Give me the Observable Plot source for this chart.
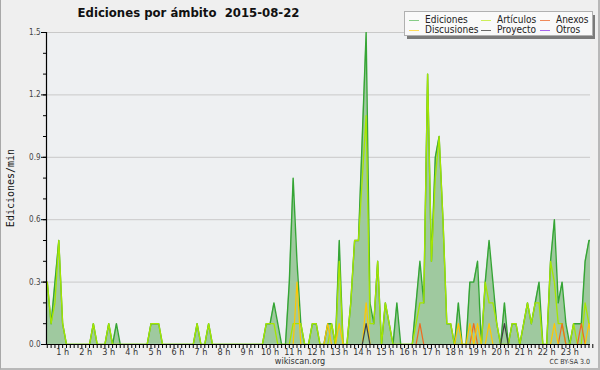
<!DOCTYPE html>
<html>
<head>
<meta charset="utf-8">
<script src="https://cdn.jsdelivr.net/npm/d3@7"></script>
<script src="https://cdn.jsdelivr.net/npm/@observablehq/plot@0.6"></script>
<style>
  html, body { margin: 0; padding: 0; background: #efefef; }
  #wrap { position: relative; width: 600px; height: 370px; background: #efefef; overflow: hidden;
          font-family: "DejaVu Sans Condensed", "DejaVu Sans", sans-serif; font-stretch: condensed; }
  #chart { position: absolute; left: 0; top: 0; }
  #title { position: absolute; left: 0; width: 377px; top: 5px; text-align: center; font-weight: bold;
           font-size: 13px; line-height: 16px; color: #111; white-space: pre; }
  #legend-shadow { position: absolute; left: 407px; top: 15px; width: 188px; height: 24px; background: #7a7a7a; }
  #legend { position: absolute; left: 404px; top: 11px; width: 187px; height: 23px; background: #f9f9f9;
            border: 1px solid #b0b0b0; box-sizing: content-box; }
  .li { position: absolute; font-size: 10px; line-height: 10px; color: #222; white-space: nowrap; }
  .sw { position: absolute; height: 1px; width: 10px; }
  #ytitle { position: absolute; left: 10px; top: 188px; transform: translate(-50%, -50%) rotate(-90deg);
            font-family: "DejaVu Sans Mono", monospace; font-stretch: normal; font-size: 10px; color: #111; white-space: nowrap; }
  #site { position: absolute; left: 0; width: 600px; top: 357px; text-align: center; font-size: 9px; line-height: 9px; color: #333; }
  #lic { position: absolute; right: 10px; top: 359px; font-size: 7px; line-height: 7px; color: #333; }
  #border { position: absolute; left: 0; top: 0; width: 600px; height: 370px; box-sizing: border-box;
            border-left: 1px solid #a8a8a8; border-right: 2px solid #b8b8b8; border-bottom: 2px solid #b8b8b8; pointer-events: none; }
</style>
</head>
<body>
<div id="wrap">
  <div id="chart"></div>
  <div id="title"></div>
  <div id="legend-shadow"></div>
  <div id="legend"></div>
  <div id="ytitle"></div>
  <div id="site"></div>
  <div id="lic"></div>
  <div id="border"></div>
</div>
<script>
// ---- texts ----
const titleText = "Ediciones por ámbito  2015-08-22";
const yTitle = "Ediciones/min";
const siteText = "wikiscan.org";
const licenseText = "CC BY-SA 3.0";

// ---- time axis: one sample every 10 minutes, first at 00:20 ----
const startMinute = 20;
const stepMinutes = 10;
const hourLabels = ["1 h","2 h","3 h","4 h","5 h","6 h","7 h","8 h","9 h","10 h","11 h","12 h",
                    "13 h","14 h","15 h","16 h","17 h","18 h","19 h","20 h","21 h","22 h","23 h"];
const yMajorTicks = [0.0, 0.3, 0.6, 0.9, 1.2, 1.5];
const yMinorTicks = [0.0,0.1,0.2,0.3,0.4,0.5,0.6,0.7,0.8,0.9,1.0,1.1,1.2,1.3,1.4,1.5];

// ---- series (edits/min, one value per 10-minute sample) ----
const ediciones = [
  0.3,0.1,0.3,0.5,0.1,0,   0,0,0,0,0,0,   0.1,0,0,0,0.1,0,   0.1,0,0,0,0,0,
  0,0,0,0.1,0.1,0.1,       0,0,0,0,0,0,   0,0,0,0.1,0,0,     0.1,0,0,0,0,0,
  0,0,0,0,0,0,             0,0,0,0.1,0.1,0.2, 0.1,0,0,0.3,0.8,0.4, 0.1,0,0,0.1,0.1,0,
  0,0.1,0.1,0,0.5,0,       0,0.2,0.5,0.5,1.0,1.5, 0.2,0.1,0.4,0,0.2,0.1, 0,0.2,0,0,0,0,
  0.2,0.4,0.2,1.3,0.4,0.9, 1.0,0.6,0.1,0.1,0,0.2, 0,0,0.3,0.3,0.4,0, 0.3,0.5,0.3,0.1,0,0.2,
  0,0.1,0.1,0,0.1,0.2,     0.1,0.2,0.3,0,0,0.4, 0.6,0.2,0.3,0.1,0,0.1, 0.1,0.1,0.4,0.5,0.5
];
const articulos = [
  0.3,0.1,0.2,0.5,0.1,0,   0,0,0,0,0,0,   0.1,0,0,0,0.1,0,   0,0,0,0,0,0,
  0,0,0,0.1,0.1,0.1,       0,0,0,0,0,0,   0,0,0,0.1,0,0,     0.1,0,0,0,0,0,
  0,0,0,0,0,0,             0,0,0,0.1,0.1,0.1, 0,0,0,0,0.1,0.1, 0.1,0,0,0.1,0.1,0,
  0,0,0.1,0,0.4,0,         0,0.2,0.5,0.5,0.8,1.1, 0.1,0.1,0.4,0,0.2,0.1, 0,0,0,0,0,0,
  0.1,0.2,0.2,1.3,0.4,0.8, 1.0,0.6,0.1,0.1,0,0, 0,0,0,0,0,0, 0.3,0.2,0.2,0.1,0,0,
  0,0.1,0.1,0,0.1,0.2,     0.1,0.2,0.2,0,0,0.4, 0.3,0.1,0.1,0,0,0.1, 0,0,0.2,0.1,0.1
];
const discusiones = [
  0,0,0,0,0,0, 0,0,0,0,0,0, 0,0,0,0,0,0, 0,0,0,0,0,0,
  0,0,0,0,0,0, 0,0,0,0,0,0, 0,0,0,0,0,0, 0,0,0,0,0,0,
  0,0,0,0,0,0, 0,0,0,0,0,0, 0,0,0,0,0,0.3, 0,0,0,0,0,0,
  0,0.1,0,0,0.1,0, 0,0,0,0,0,0.2, 0,0,0,0,0,0, 0,0,0,0,0,0,
  0,0,0,0,0,0, 0,0,0,0,0,0.1, 0,0,0.1,0,0.1,0, 0,0.1,0,0,0,0,
  0,0,0,0,0,0, 0,0,0,0,0,0, 0.1,0,0,0,0,0, 0,0,0,0.1,0
];
const anexos = [
  0,0,0,0,0,0, 0,0,0,0,0,0, 0,0,0,0,0,0, 0,0,0,0,0,0,
  0,0,0,0,0,0, 0,0,0,0,0,0, 0,0,0,0,0,0, 0,0,0,0,0,0,
  0,0,0,0,0,0, 0,0,0,0,0,0, 0,0,0,0,0,0, 0,0,0,0,0,0,
  0,0,0,0,0,0, 0,0,0,0,0,0, 0,0,0,0,0,0, 0,0,0,0,0,0,
  0,0.1,0,0,0,0, 0,0,0,0,0,0, 0,0,0,0.1,0,0, 0,0,0,0,0,0,
  0,0,0,0,0,0, 0,0,0,0,0,0, 0,0,0.1,0,0,0, 0,0.1,0,0,0
];
const proyecto = [
  0,0,0,0,0,0, 0,0,0,0,0,0, 0,0,0,0,0,0, 0,0,0,0,0,0,
  0,0,0,0,0,0, 0,0,0,0,0,0, 0,0,0,0,0,0, 0,0,0,0,0,0,
  0,0,0,0,0,0, 0,0,0,0,0,0, 0,0,0,0,0,0, 0,0,0,0,0,0,
  0,0,0,0,0,0, 0,0,0,0,0,0.1, 0,0,0,0,0,0, 0,0,0,0,0,0,
  0,0,0,0,0,0, 0,0,0,0,0,0, 0,0,0,0,0,0, 0,0,0,0,0,0.1,
  0,0,0,0,0,0, 0,0,0,0,0,0, 0,0,0,0,0,0, 0,0,0,0,0
];

const seriesNames  = ["Ediciones","Artículos","Anexos","Discusiones","Proyecto","Otros"];
const seriesColors = ["#35a535","#a6e600","#f06a1e","#ffc800","#404040","#9a4dec"];
const legendColors = ["#86cc86","#cdef5a","#f08a5a","#ffdc5a","#6a6a6a","#a866ee"];
const fillColor = "#9fc99f";

// ---- build tables ----
const toRows = arr => arr.map((v, i) => ({t: startMinute + stepMinutes * i, v}));
const edRows = toRows(ediciones);
const times = edRows.map(d => d.t);
const hourTicks = hourLabels.map(s => parseInt(s) * 60);

const xDomain = [18, 1434];

const plot = Plot.plot({
  width: 600,
  height: 370,
  marginLeft: 46,
  marginRight: 10,
  marginTop: 32,
  marginBottom: 26,
  style: {background: "#efefef", fontFamily: "'DejaVu Sans', sans-serif", overflow: "visible"},
  x: {domain: xDomain, axis: null},
  y: {domain: [0, 1.5], axis: null},
  marks: [
    Plot.frame({fill: "#eef0f2", stroke: null}),
    Plot.gridY(yMajorTicks.filter(d => d > 0), {stroke: "#c9c9c9", strokeOpacity: 1, strokeWidth: 1}),
    Plot.areaY(edRows, {x: "t", y: "v", fill: fillColor, clip: true}),
    Plot.lineY(edRows, {x: "t", y: "v", stroke: seriesColors[0], strokeWidth: 1.4, clip: true}),
    Plot.lineY(toRows(articulos), {x: "t", y: "v", stroke: seriesColors[1], strokeWidth: 1.3, clip: true}),
    Plot.lineY(toRows(anexos), {x: "t", y: "v", stroke: seriesColors[2], strokeWidth: 1.2, clip: true}),
    Plot.lineY(toRows(discusiones), {x: "t", y: "v", stroke: seriesColors[3], strokeWidth: 1.2, clip: true}),
    Plot.lineY(toRows(proyecto), {x: "t", y: "v", stroke: seriesColors[4], strokeWidth: 1.2, clip: true}),
    // y axis
    Plot.axisY({ticks: yMinorTicks, tickSize: 3, tickFormat: () => "", stroke: "#000", anchor: "left", label: null}),
    Plot.axisY({ticks: yMajorTicks, tickSize: 5, tickPadding: 1, tickFormat: d3.format(".1f"),
                fontSize: 8, fill: "#444", stroke: "#000", anchor: "left", label: null}),
    // x axis
    Plot.axisX({ticks: times, tickSize: 4, tickFormat: () => "", stroke: "#000", anchor: "bottom", label: null}),
    Plot.axisX({ticks: hourTicks, tickSize: 0, tickPadding: 4, tickFormat: (d, i) => hourLabels[i],
                fontSize: 9, fill: "#333", anchor: "bottom", label: null,
                fontFamily: "'DejaVu Sans Condensed', 'DejaVu Sans', sans-serif", fontStretch: "condensed"}),
    Plot.ruleX([xDomain[0]], {stroke: "#000", strokeWidth: 1.2}),
    Plot.ruleY([0], {stroke: "#000", strokeWidth: 1.2})
  ]
});
document.getElementById("chart").appendChild(plot);

// ---- texts & legend ----
document.getElementById("title").textContent = titleText;
document.getElementById("ytitle").textContent = yTitle;
document.getElementById("site").textContent = siteText;
document.getElementById("lic").textContent = licenseText;

const legend = document.getElementById("legend");
const colX = [4, 76, 135];   // relative to legend box
const rowY = [8, 18];
const order = [[0,0,0],[1,1,0],[2,2,0],[3,0,1],[4,1,1],[5,2,1]];
for (const [k, c, r] of order) {
  const sw = document.createElement("div");
  sw.className = "sw";
  sw.style.left = colX[c] + "px";
  sw.style.top = rowY[r] + "px";
  sw.style.background = legendColors[k];
  legend.appendChild(sw);
  const tx = document.createElement("div");
  tx.className = "li";
  tx.style.left = (colX[c] + 16) + "px";
  tx.style.top = (rowY[r] - 5) + "px";
  tx.textContent = seriesNames[k];
  legend.appendChild(tx);
}
</script>
</body>
</html>
